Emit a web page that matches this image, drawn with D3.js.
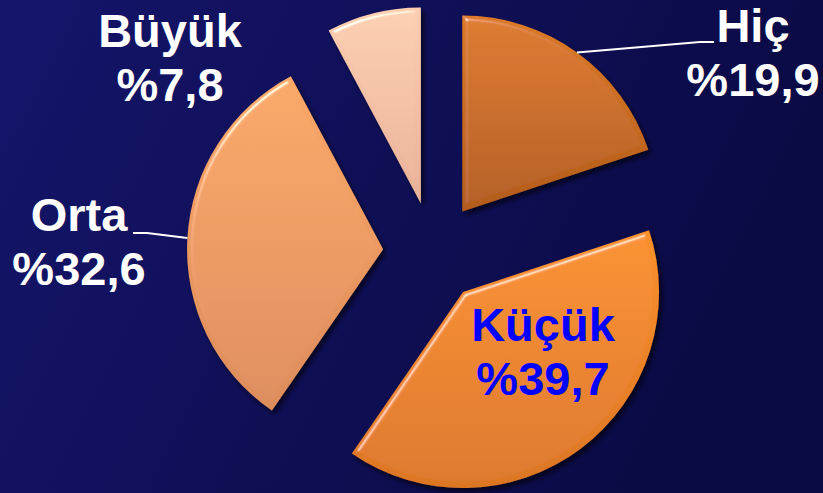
<!DOCTYPE html>
<html>
<head>
<meta charset="utf-8">
<script src="https://cdn.jsdelivr.net/npm/d3@7"></script>
<style>
  html, body { margin: 0; padding: 0; background: #10105a; }
  svg { display: block; }
</style>
</head>
<body>
<div id="chart"></div>
<script>
// data
const categories = ["Hiç", "Küçük", "Orta", "Büyük"];
const values = [19.9, 39.7, 32.6, 7.8];
const valueLabels = ["%19,9", "%39,7", "%32,6", "%7,8"];

// colours (top / bottom of each slice)
const sliceTop = ["#dc7a28", "#fa902c", "#fba867", "#fcceb1"];
const sliceBottom = ["#b35c1b", "#dc7624", "#dd8c5c", "#e8b198"];
const labelColor = ["#ffffff", "#0000ff", "#ffffff", "#ffffff"];

const width = 823, height = 493;
const center = { x: 433, y: 252 };
const radius = 196;
const explode = 50;

// label layout (text centre x, first baseline y) and leader elbows
const labelPos = {
    "Hiç": { x: 753, y: 42, elbow: [700, 42], end: [714, 42] },
    "Küçük": { x: 543, y: 341 },
    "Orta": { x: 79, y: 231, elbow: [147, 233], end: [133, 233] },
    "Büyük": { x: 170, y: 47 }
};
const lineGap = 54;

const svg = d3.select("#chart").append("svg")
    .attr("width", width)
    .attr("height", height);

const defs = svg.append("defs");

const bg = defs.append("linearGradient").attr("id", "bg")
    .attr("x1", 0).attr("y1", 0).attr("x2", 1).attr("y2", 0.3);
bg.append("stop").attr("offset", "0%").attr("stop-color", "#15156b");
bg.append("stop").attr("offset", "100%").attr("stop-color", "#0a0a44");

categories.forEach((c, i) => {
    const g = defs.append("linearGradient").attr("id", "grad" + i)
        .attr("x1", 0).attr("y1", 0).attr("x2", 0).attr("y2", 1);
    g.append("stop").attr("offset", "0%").attr("stop-color", sliceTop[i]);
    g.append("stop").attr("offset", "100%").attr("stop-color", sliceBottom[i]);
});

// bevel + shadow filter
const f = defs.append("filter").attr("id", "bevel")
    .attr("x", "-10%").attr("y", "-10%").attr("width", "120%").attr("height", "120%");
f.append("feGaussianBlur").attr("in", "SourceAlpha").attr("stdDeviation", 2.5).attr("result", "blur");
f.append("feOffset").attr("in", "blur").attr("dx", 3).attr("dy", 4).attr("result", "offBlur");
f.append("feComponentTransfer").attr("in", "offBlur").attr("result", "shadow")
    .append("feFuncA").attr("type", "linear").attr("slope", 0.6);
const spec = f.append("feSpecularLighting").attr("in", "blur")
    .attr("surfaceScale", 4).attr("specularConstant", 0.9)
    .attr("specularExponent", 40).attr("lighting-color", "#ffffff")
    .attr("result", "spec");
spec.append("feDistantLight").attr("azimuth", 235).attr("elevation", 40);
f.append("feComposite").attr("in", "spec").attr("in2", "SourceAlpha")
    .attr("operator", "in").attr("result", "specOut");
f.append("feComposite").attr("in", "SourceGraphic").attr("in2", "specOut")
    .attr("operator", "arithmetic").attr("k1", 0).attr("k2", 1).attr("k3", 0.7).attr("k4", 0)
    .attr("result", "lit");
const merge = f.append("feMerge");
merge.append("feMergeNode").attr("in", "shadow");
merge.append("feMergeNode").attr("in", "lit");

svg.append("rect").attr("width", width).attr("height", height).attr("fill", "url(#bg)");

const pie = d3.pie().sort(null).value(d => d.value);
const data = pie(categories.map((c, i) => ({ name: c, value: values[i], label: valueLabels[i], idx: i })));

const arc = d3.arc().innerRadius(0).outerRadius(radius);
const outerPoint = d3.arc().innerRadius(radius).outerRadius(radius);

function offset(d) {
    const a = (d.startAngle + d.endAngle) / 2;
    return [explode * Math.sin(a), -explode * Math.cos(a)];
}

const root = svg.append("g").attr("transform", `translate(${center.x},${center.y})`);

root.selectAll("path.slice")
    .data(data)
    .enter().append("path")
    .attr("class", "slice")
    .attr("transform", d => `translate(${offset(d)})`)
    .attr("d", arc)
    .attr("fill", d => `url(#grad${d.data.idx})`)
    .attr("filter", "url(#bevel)");

// leader lines
data.forEach(d => {
    const p = labelPos[d.data.name];
    if (!p.elbow) return;
    const o = offset(d);
    const c = outerPoint.centroid(d);
    const start = [center.x + o[0] + c[0], center.y + o[1] + c[1]];
    svg.append("polyline")
        .attr("points", [start, p.elbow, p.end].map(q => q.join(",")).join(" "))
        .attr("fill", "none")
        .attr("stroke", "#ffffff")
        .attr("stroke-width", 2);
});

// labels
data.forEach(d => {
    const p = labelPos[d.data.name];
    const t = svg.append("text")
        .attr("x", p.x).attr("y", p.y)
        .attr("text-anchor", "middle")
        .attr("font-family", "'Liberation Sans', Arial, sans-serif")
        .attr("font-weight", "bold")
        .attr("font-size", 47)
        .attr("fill", labelColor[d.data.idx]);
    t.append("tspan").attr("x", p.x).text(d.data.name);
    t.append("tspan").attr("x", p.x).attr("dy", lineGap).text(d.data.label);
});
</script>
</body>
</html>
